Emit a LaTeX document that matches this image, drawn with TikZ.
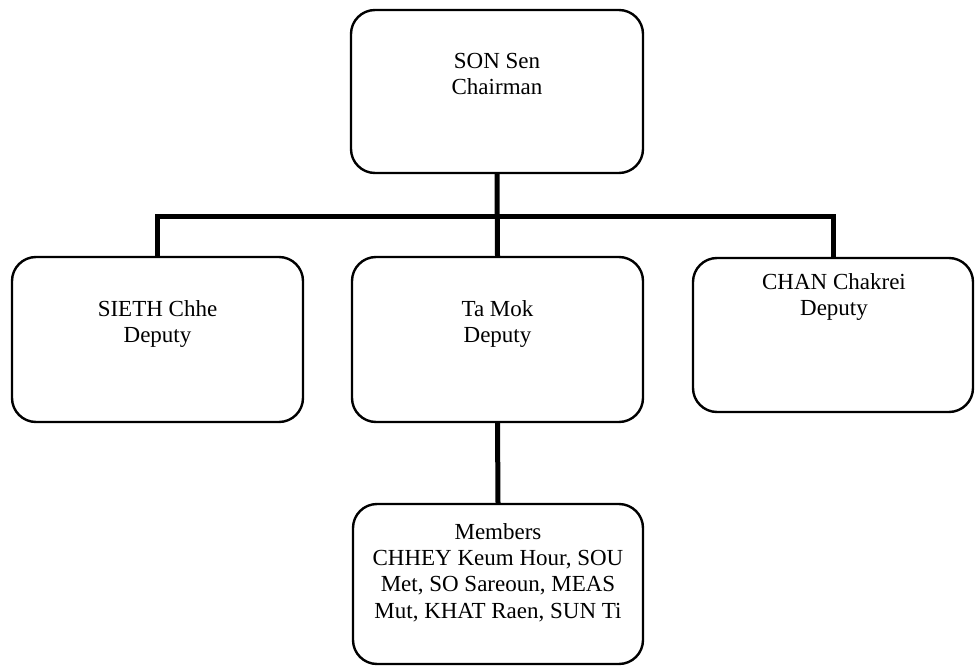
\documentclass[tikz,border=0pt]{standalone}
\usepackage{fontspec}
\setmainfont{Liberation Serif}
\begin{document}
\begin{tikzpicture}[x=1pt,y=-1pt,
  box/.style={draw=black, line width=2.4pt, rounded corners=24pt, inner sep=0pt},
  conn/.style={draw=black, line width=5pt, line join=miter},
  lbl/.style={anchor=north, inner sep=0pt, align=center, font=\fontsize{23}{26.4}\selectfont}]
\useasboundingbox (0,0) rectangle (975,666);
% boxes
\node[box, minimum width=292pt, minimum height=163pt] (son) at (497,91.5) {};
\node[box, minimum width=291pt, minimum height=165pt] (sieth) at (157.5,339.5) {};
\node[box, minimum width=291pt, minimum height=165pt] (tamok) at (497.5,339.5) {};
\node[box, minimum width=280pt, minimum height=154pt] (chan) at (833,335) {};
\node[box, minimum width=290pt, minimum height=160pt] (members) at (498,584) {};
% labels
\node[lbl] (sonT) at (497,53) {SON Sen\\Chairman};
\node[lbl] (siethT) at (157.5,300) {SIETH Chhe\\Deputy};
\node[lbl] (tamokT) at (497.5,300) {Ta Mok\\Deputy};
\node[lbl] (chanT) at (834,273) {CHAN Chakrei\\Deputy};
\node[lbl] (membersT) at (498,523) {Members\\CHHEY Keum Hour, SOU\\Met, SO Sareoun, MEAS\\Mut, KHAT Raen, SUN Ti};
% connectors
\coordinate (bus) at (0,216);
\draw[conn] (son.south) -- (tamok.north);
\draw[conn] (sieth.north) -- (sieth.north |- bus) -- (chan.north |- bus) -- (chan.north);
\draw[conn] (tamok.south) -- (members.north);
\end{tikzpicture}
\end{document}
